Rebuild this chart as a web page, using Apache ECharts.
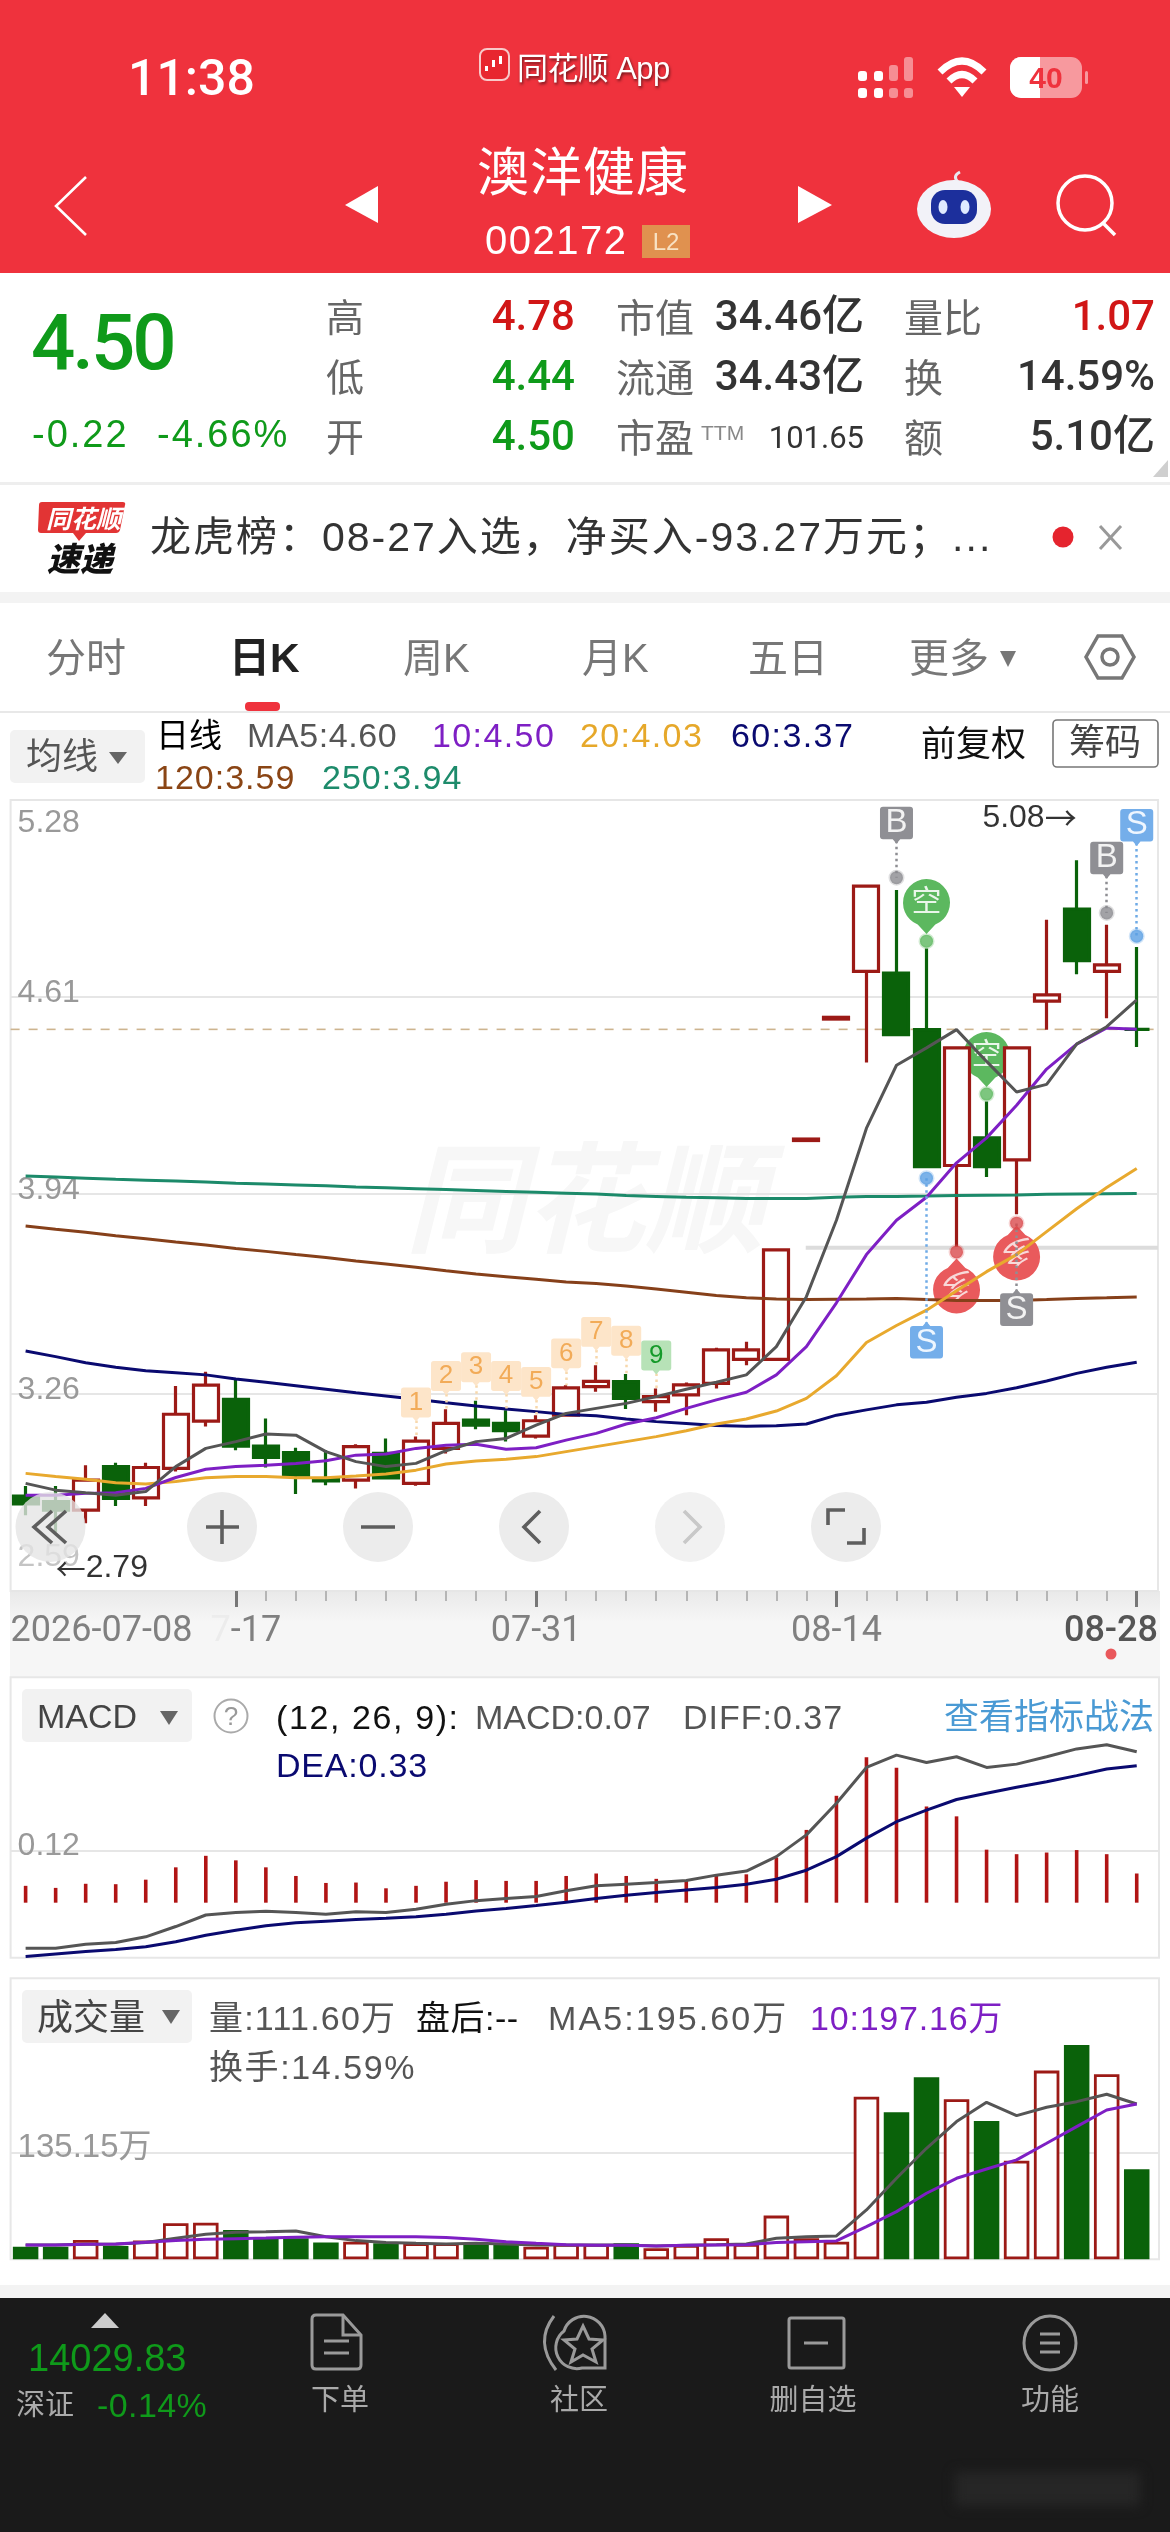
<!DOCTYPE html>
<html lang="zh-CN"><head><meta charset="utf-8">
<script src="https://cdn.jsdelivr.net/npm/echarts@6/dist/echarts.min.js"></script>
<style>
html,body{margin:0;padding:0;background:#fff}
#page{position:relative;width:1170px;height:2532px;overflow:hidden;font-family:"Liberation Sans","Noto Sans CJK SC",sans-serif}
#chart{position:absolute;left:0;top:0;width:1170px;height:2532px;z-index:1}
.b{position:absolute;z-index:0}
#top{position:absolute;left:0;top:0;width:1170px;height:2532px;z-index:2;pointer-events:none}
#top svg{position:absolute;left:0;top:0}
.t{position:absolute;white-space:nowrap;line-height:1;transform:translateY(-50%)}
</style></head><body><div id="page">
<div class="b" style="left:0;top:0;width:1170px;height:273px;background:#ef323d"></div>
<div class="b" style="left:0;top:482px;width:1170px;height:3px;background:#eeeeee"></div>
<div class="b" style="left:0;top:592px;width:1170px;height:11px;background:#f3f3f3"></div>
<div class="b" style="left:0;top:711px;width:1170px;height:2px;background:#e8e8e8"></div>
<div class="b" style="left:10px;top:1591px;width:1150px;height:87px;background:linear-gradient(#e9e9e9,#f6f6f6 35%,#f6f6f6)"></div>
<div class="b" style="left:0;top:2285px;width:1170px;height:13px;background:#f3f3f3"></div>
<div class="b" style="left:0;top:2298px;width:1170px;height:234px;background:#1a1a1a"></div>
<div class="b" style="left:955px;top:2472px;width:185px;height:34px;background:#262626;filter:blur(6px)"></div>
<div class="b" style="left:10px;top:730px;width:135px;height:53px;background:#f2f2f2;border-radius:5px"></div>
<div class="b" style="left:22px;top:1689px;width:170px;height:53px;background:#f2f2f2;border-radius:5px"></div>
<div class="b" style="left:22px;top:1990px;width:170px;height:53px;background:#f2f2f2;border-radius:5px"></div>
<div class="b" style="left:405px;top:1104px;font:italic bold 120px 'Noto Sans CJK SC';color:#f7f7f7;white-space:nowrap">同花顺</div>
<div id="chart"></div>
<div id="top"></div>
</div>
<script>
// ---------- data ----------
const dates = ['2026-07-08','07-09','07-10','07-13','07-14','07-15','07-16','07-17','07-20','07-21','07-22','07-23','07-24','07-27','07-28','07-29','07-30','07-31','08-03','08-04','08-05','08-06','08-07','08-10','08-11','08-12','08-13','08-14','08-17','08-18','08-19','08-20','08-21','08-24','08-25','08-26','08-27','08-28'];
const opens  = [2.913,2.894,2.865,3.013,2.907,3.007,3.168,3.242,3.083,3.061,2.970,2.967,3.058,2.956,3.075,3.171,3.160,3.117,3.188,3.285,3.302,3.234,3.257,3.296,3.378,3.378,4.122,4.535,4.697,4.691,4.499,4.037,4.131,4.056,4.596,4.909,4.697,4.50];
const closes = [2.886,2.865,2.967,2.905,3.010,3.191,3.290,3.083,3.044,2.984,2.964,3.081,2.975,3.100,3.160,3.154,3.135,3.169,3.281,3.303,3.245,3.251,3.291,3.410,3.410,3.750,4.127,4.541,4.987,4.482,4.033,4.437,4.033,4.437,4.617,4.734,4.719,4.50];
const lows   = [2.848,2.79,2.820,2.879,2.879,2.996,3.149,3.069,3.010,2.920,2.950,2.939,2.971,2.948,3.058,3.140,3.098,3.109,3.183,3.268,3.209,3.200,3.188,3.279,3.358,3.378,4.122,4.535,4.387,4.48,4.033,3.760,3.998,3.871,4.499,4.687,4.538,4.44];
const highs  = [2.947,2.947,3.018,3.026,3.026,3.287,3.336,3.313,3.177,3.077,3.069,3.089,3.109,3.115,3.208,3.237,3.205,3.188,3.290,3.358,3.328,3.279,3.299,3.417,3.438,3.750,4.127,4.541,4.987,4.974,4.775,4.437,4.255,4.437,4.873,5.075,4.856,4.78];
const ma5   = [2.956,2.933,2.924,2.916,2.928,3.013,3.075,3.098,3.124,3.120,3.064,3.030,3.013,3.024,3.067,3.098,3.109,3.154,3.194,3.211,3.228,3.251,3.276,3.300,3.325,3.421,3.591,3.851,4.164,4.378,4.437,4.499,4.391,4.287,4.313,4.450,4.509,4.600];
const ma10  = [2.916,2.916,2.922,2.924,2.939,2.976,3.004,3.013,3.018,3.024,3.033,3.052,3.056,3.075,3.086,3.089,3.072,3.077,3.103,3.126,3.158,3.179,3.211,3.240,3.266,3.325,3.421,3.570,3.734,3.851,3.929,4.046,4.131,4.242,4.365,4.450,4.505,4.500];
const ma20  = [2.990,2.979,2.970,2.958,2.954,2.962,2.975,2.979,2.979,2.975,2.975,2.981,2.988,3.001,3.022,3.032,3.038,3.047,3.064,3.081,3.098,3.115,3.135,3.158,3.175,3.202,3.245,3.322,3.435,3.493,3.545,3.611,3.676,3.734,3.812,3.890,3.962,4.027];
const ma60  = [3.406,3.387,3.366,3.351,3.339,3.332,3.325,3.311,3.300,3.288,3.276,3.264,3.253,3.242,3.230,3.219,3.209,3.200,3.190,3.186,3.175,3.166,3.160,3.153,3.150,3.152,3.158,3.188,3.206,3.223,3.232,3.249,3.262,3.281,3.304,3.330,3.351,3.368];
const ma120 = [3.831,3.820,3.810,3.798,3.788,3.777,3.767,3.755,3.745,3.734,3.724,3.712,3.702,3.691,3.679,3.668,3.659,3.650,3.641,3.636,3.627,3.617,3.606,3.595,3.587,3.583,3.581,3.582,3.583,3.585,3.581,3.578,3.578,3.578,3.581,3.585,3.587,3.590];
const ma250 = [4.001,3.998,3.994,3.990,3.987,3.984,3.981,3.977,3.974,3.971,3.968,3.964,3.961,3.958,3.955,3.952,3.949,3.946,3.943,3.940,3.935,3.932,3.929,3.927,3.925,3.925,3.925,3.929,3.932,3.932,3.933,3.935,3.936,3.937,3.939,3.940,3.941,3.942];
const macdBars = [.041,.036,.046,.045,.056,.086,.114,.103,.086,.065,.048,.049,.035,.041,.051,.055,.053,.053,.065,.071,.065,.058,.055,.067,.069,.110,.177,.260,.354,.328,.234,.210,.129,.118,.122,.128,.118,.071];
const diff = [-.111,-.111,-.101,-.097,-.083,-.058,-.030,-.024,-.021,-.024,-.028,-.022,-.024,-.016,-.004,.005,.010,.015,.029,.041,.045,.049,.054,.067,.077,.112,.165,.242,.329,.359,.341,.355,.329,.337,.355,.374,.384,.367];
const dea  = [-.131,-.125,-.119,-.114,-.107,-.095,-.079,-.067,-.056,-.049,-.045,-.041,-.038,-.034,-.028,-.020,-.014,-.007,.001,.010,.018,.025,.031,.037,.045,.057,.079,.112,.157,.197,.225,.251,.266,.281,.294,.309,.325,.333];
const volumes = [16.0,16.0,24.4,16.8,23.6,45.5,46.3,37.0,26.5,26.5,21.1,22.3,20.2,20.2,20.2,20.2,20.2,16.0,19.4,19.4,20.2,13.9,18.1,26.5,19.4,55.2,26.5,22.3,205.4,185.7,229.9,202.1,174.7,124.6,238.3,270.7,233.7,113.7];
const volMa5  = [18.1,18.1,18.9,18.9,21.1,26.5,31.6,34.1,34.9,35.8,28.6,23.6,21.1,20.2,19.4,20.2,19.4,18.1,18.1,18.1,18.1,16.8,17.7,18.5,19.4,26.5,28.6,29.5,62.3,102.3,140.2,173.9,198.3,181.5,192.0,199.1,208.4,196.2];
const volMa10 = [18.1,18.1,18.9,19.4,21.5,23.6,25.3,26.1,26.9,27.8,28.6,28.6,28.6,28.6,27.4,25.3,22.3,20.2,18.5,17.7,17.7,16.8,17.7,18.1,18.5,21.1,22.3,23.2,41.3,60.2,83.4,102.3,114.1,125.5,146.5,167.6,188.6,196.2];
const priceTicks = [2.59,3.26,3.94,4.61,5.28];
const macdTick = 0.126, macdTickLabel = '0.12';
const volTick = 135.15, volTickLabel = '135.15万';
const lastPrice = 4.50;
const supportLine = 3.757;
const dateTickIdx = [7,17,27];
const nineTags = [[13,3.231,'1'],[14,3.321,'2'],[15,3.351,'3'],[16,3.321,'4'],[17,3.301,'5'],[18,3.398,'6'],[19,3.471,'7'],[20,3.441,'8']];
const nineGreen = [[21,3.391,'9']];
const grayTop = [[29,5.203,'B'],[36,5.084,'B']];
const blueTop = [[37,5.195,'S']];
const blueBottom = [[30,3.435,'S']];
const grayBottom = [[33,3.546,'S']];
const kongBubbles = [[30,4.931,'空'],[32,4.411,'空']];
const duoBubbles = [[31,3.614,'多'],[33,3.726,'多']];
const grayDots = [[29,5.016],[36,4.896]];
const blueDots = [[37,4.817],[30,3.994]];
const greenDots = [[30,4.800],[32,4.280]];
const redDots = [[31,3.743],[33,3.841]];
const grayLinks = [[29,5.203,5.016],[36,5.084,4.896],[33,3.546,3.841]];
const blueLinks = [[37,5.195,4.817],[30,3.994,3.435]];
const extremes = {low:[1,2.79,'2.79'],high:[35,5.08,'5.08']};

// ---------- chart ----------
const FF = '"Liberation Sans","Noto Sans CJK SC",sans-serif';
const RED='#9c1a16', GREEN='#0a620a', N=dates.length;
const BAND=1141.14;
const noAxis={axisLine:{show:false},axisTick:{show:false},axisLabel:{show:false},splitLine:{show:false}};
const gridBase={left:10.6,outerBoundsMode:'none',containLabel:false};
const frame={show:true,borderColor:'#e7e7e7',borderWidth:2,backgroundColor:'transparent'};
const split={show:true,lineStyle:{color:'#e6e6e6',width:2}};
const tickFont={fontFamily:FF,fontSize:32};
const bgY=(idx,min,max,vals,fmt,rich)=>({type:'value',gridIndex:idx,min,max,scale:true,
  axisLine:{show:false},axisTick:{show:false,customValues:vals},splitLine:Object.assign({customValues:vals},split),
  axisLabel:{show:true,inside:true,margin:7,customValues:vals,showMinLabel:true,showMaxLabel:true,verticalAlign:'middle',formatter:fmt,rich,color:'#999',fontSize:32,fontFamily:FF,hideOverlap:false}});
const catX=(idx,extra)=>Object.assign({type:'category',gridIndex:idx,position:'bottom',data:dates,boundaryGap:true},noAxis,extra||{});
const hideY=(idx,min,max)=>Object.assign({type:'value',gridIndex:idx,min,max},noAxis);
const bgX=(idx,extra)=>Object.assign({type:'value',gridIndex:idx,position:'bottom',min:0,max:1},noAxis,extra||{});

const line=(name,data,color,xi,yi,w)=>({name,type:'line',data,xAxisIndex:xi,yAxisIndex:yi,symbol:'none',smooth:false,z:4,silent:true,
  lineStyle:{color,width:w||3},itemStyle:{color}});
const path={
 flagDown:'path://M4 0H40A4 4 0 0 1 44 4V40A4 4 0 0 1 40 44H27L22 50L17 44H4A4 4 0 0 1 0 40V4A4 4 0 0 1 4 0Z',
 flagUp:'path://M4 6H17L22 0L27 6H40A4 4 0 0 1 44 10V46A4 4 0 0 1 40 50H4A4 4 0 0 1 0 46V10A4 4 0 0 1 4 6Z',
 dropDown:'path://M15 46.3A24 24 0 1 1 33 46.3L24 56Z',
 dropUp:'path://M15 9.7A24 24 0 1 0 33 9.7L24 0Z'
};
const marks=(name,data,sym,size,fill,txt,off,labOff,z,fs,rot)=>({name,type:'scatter',xAxisIndex:1,yAxisIndex:1,data,symbol:sym,symbolSize:size,symbolOffset:[0,off],z,silent:true,
  itemStyle:{color:fill,opacity:1},encode:{x:0,y:1},
  label:{show:true,position:'inside',offset:[0,labOff],formatter:p=>p.value[2],color:txt,fontSize:fs,fontFamily:FF,rotate:rot||0}});
const dots=(name,data,fill,halo)=>({name,type:'scatter',xAxisIndex:1,yAxisIndex:1,data,symbol:'circle',symbolSize:13,z:6,silent:true,
  itemStyle:{color:fill,borderColor:halo,borderWidth:3}});
const links=(name,list,color)=>({name,type:'scatter',xAxisIndex:1,yAxisIndex:1,data:[],z:5,silent:true,
  markLine:{silent:true,symbol:'none',label:{show:false},animation:false,lineStyle:{color,type:[2.5,3.5],width:2.5},
    data:list.map(l=>[{coord:[l[0],l[1]]},{coord:[l[0],l[2]]}])}});

const chart=echarts.init(document.getElementById('chart'),null,{width:1170,height:2532});
chart.setOption({
 animation:false,backgroundColor:'transparent',
 grid:[
  Object.assign({},gridBase,frame,{top:800,width:1147.4,height:791}),
  Object.assign({},gridBase,{top:800,width:BAND,height:791}),
  Object.assign({},gridBase,frame,{top:1677.3,width:1148.4,height:280.4}),
  Object.assign({},gridBase,{top:1677.3,width:BAND,height:280.4}),
  Object.assign({},gridBase,frame,{top:1978.3,width:1148.4,height:281}),
  Object.assign({},gridBase,{top:1978.3,width:BAND,height:281})
 ],
 xAxis:[
  bgX(0,{axisLabel:{show:true,customValues:[0,1],alignMinLabel:'left',alignMaxLabel:'right',margin:23,showMinLabel:true,showMaxLabel:true,hideOverlap:false,
     formatter:v=>v===0?dates[0]:'{end|'+dates[N-1]+'}',color:'#808080',fontSize:36,fontFamily:'Roboto',rich:{end:{color:'#555',fontSize:36,fontFamily:'Roboto',fontWeight:500}}}}),
  catX(1,{axisTick:{show:true,alignWithLabel:true,length:10,interval:i=>i>=7,lineStyle:{color:'#b5b5b5',width:2}},
     axisLabel:{show:true,margin:23,interval:i=>dateTickIdx.includes(i),hideOverlap:false,color:'#808080',fontSize:36,fontFamily:'Roboto',
       formatter:(v,i)=>i===7?'{h|0}{f|7}-17':v,rich:{h:{color:'transparent',fontSize:36,fontFamily:'Roboto'},f:{color:'#ececec',fontSize:36,fontFamily:'Roboto'}}}}),
  catX(1,{axisTick:{show:true,alignWithLabel:true,length:16,interval:i=>dateTickIdx.includes(i)||i===N-1,lineStyle:{color:'#777',width:3}}}),
  bgX(2),catX(3),bgX(4),catX(5)
 ],
 yAxis:[
  bgY(0,2.59,5.28,priceTicks,v=>{const s=v.toFixed(2);return v===2.59?'{low|'+s+'}':v===5.28?'{top|'+s+'}':'{n|'+s+'}';},
    {low:Object.assign({padding:[0,0,68,0],color:'#c4c4c4'},tickFont),top:Object.assign({padding:[46,0,0,0],color:'#999'},tickFont),n:Object.assign({padding:[0,0,7,0],color:'#999'},tickFont)}),
  hideY(1,2.59,5.28),
  bgY(2,-.1338,.5482,[macdTick],()=>'{n|'+macdTickLabel+'}',{n:Object.assign({padding:[0,0,10,0],color:'#999'},tickFont)}),
  hideY(3,-.1338,.5482),
  bgY(4,0,354.9,[volTick],()=>'{n|'+volTickLabel+'}',{n:Object.assign({padding:[0,0,9,0],color:'#999'},tickFont,{fontSize:33})}),
  hideY(5,0,354.9)
 ],
 series:[
  {name:'现价',type:'line',xAxisIndex:0,yAxisIndex:0,data:[[0,lastPrice],[1,lastPrice]],symbol:'none',z:1,silent:true,lineStyle:{color:'#cdb48f',width:1.6,type:[9,9]}},
  {name:'支撑',type:'line',xAxisIndex:0,yAxisIndex:0,data:[[0.693,supportLine],[1,supportLine]],symbol:'none',z:1,silent:true,lineStyle:{color:'#dcdcdc',width:4}},
  marks('空',kongBubbles,path.dropDown,[47,55],'#5cb85f','#eaf6ea',4,-4,1.5,30),
  marks('多',duoBubbles,path.dropUp,[47,55],'#e95a5c','#f8d9d9',-4,4,1.5,30,180),
  {name:'日K',type:'candlestick',xAxisIndex:1,yAxisIndex:1,z:3,silent:true,barWidth:25.5,
   data:opens.map((o,i)=>[o,closes[i],lows[i],highs[i]]),
   itemStyle:{color:'#ffffff',color0:GREEN,borderColor:RED,borderColor0:GREEN,borderColorDoji:GREEN,borderWidth:3.2}},
  line('MA250',ma250,'#1c8a6a',1,1),line('MA120',ma120,'#86401a',1,1),line('MA60',ma60,'#0a0a70',1,1),
  line('MA20',ma20,'#e8a92e',1,1),line('MA10',ma10,'#7e1fc4',1,1),line('MA5',ma5,'#555555',1,1),
  links('连线灰',grayLinks,'#8e8e93'),links('连线蓝',blueLinks,'#6fabe6'),
  links('九转线',nineTags.concat(nineGreen).map(t=>[t[0],t[1],highs[t[0]]]),'#f7d8ac'),
  dots('点灰',grayDots,'#8b8b90','rgba(139,139,144,.35)'),dots('点蓝',blueDots,'#5a9fe3','rgba(90,159,227,.35)'),
  dots('点绿',greenDots,'#5cb85f','rgba(92,184,95,.35)'),dots('点红',redDots,'#d94a4c','rgba(217,74,76,.3)'),
  marks('九转',nineTags,path.flagDown,[30,34],'#fde5c9','#f2ab58',2,-2,7,26),
  marks('九转绿',nineGreen,path.flagDown,[30,34],'#b7e2b7','#159a2a',2,-2,7,26),
  marks('B',grayTop,path.flagDown,[33,37],'#8f8f94','#f2f2f2',2.5,-2.5,8,33),
  marks('S蓝',blueTop,path.flagDown,[33,37],'#74aeea','#eef6ff',2.5,-2.5,8,33),
  marks('S蓝下',blueBottom,path.flagUp,[33,37],'#74aeea','#eef6ff',-2.5,2.5,8,33),
  marks('S灰',grayBottom,path.flagUp,[33,37],'#8f8f94','#f2f2f2',-2.5,2.5,8,33),
  {name:'最低',type:'scatter',xAxisIndex:1,yAxisIndex:1,data:[extremes.low],symbolSize:0,z:9,silent:true,
   label:{show:true,position:'right',distance:0,offset:[0,36],formatter:p=>'{a|←}{b|'+p.value[2]+'}',rich:{a:{fontFamily:'Noto Sans CJK SC',fontSize:30,color:'#000'},b:{fontFamily:FF,fontSize:32,color:'#000'}}}},
  {name:'最高',type:'scatter',xAxisIndex:1,yAxisIndex:1,data:[extremes.high],symbolSize:0,z:9,silent:true,
   label:{show:true,position:'left',distance:0,offset:[0,-41],formatter:p=>'{b|'+p.value[2]+'}{a|→}',rich:{a:{fontFamily:'Noto Sans CJK SC',fontSize:32,color:'#000'},b:{fontFamily:FF,fontSize:32,color:'#000'}}}},
  {name:'MACD',type:'bar',xAxisIndex:4,yAxisIndex:3,data:macdBars,barWidth:3.6,silent:true,itemStyle:{color:'#b11414'}},
  line('DIFF',diff,'#555555',4,3),line('DEA',dea,'#0a0a70',4,3,3),
  {name:'成交量',type:'bar',xAxisIndex:6,yAxisIndex:5,barWidth:25.5,silent:true,
   data:volumes.map((v,i)=>({value:v,itemStyle:closes[i]>opens[i]?{color:'#fff',borderColor:RED,borderWidth:2.8}:{color:GREEN,borderColor:GREEN,borderWidth:1.5}}))},
  line('量MA5',volMa5,'#555555',6,5),line('量MA10',volMa10,'#7e1fc4',6,5,3)
 ]
});

// ---------- page chrome ----------
const top_=document.getElementById('top');
function T(s,x,y,size,color,o){o=o||{};const d=document.createElement('div');d.className='t';d.textContent=s;
 d.style.cssText+=`top:${y}px;font-size:${size}px;color:${color};`+(o.r?`right:${1170-x}px;`:o.c?`left:${x}px;transform:translate(-50%,-50%);`:`left:${x}px;`)+(o.w?`font-weight:${o.w};`:'')+(o.ls?`letter-spacing:${o.ls}px;`:'')+(o.f?`font-family:${o.f};`:'')+(o.css||'');
 top_.appendChild(d);}
const DK='#333',GY='#555',GN='#0f9a1a',RD='#d11616',LB='#666';
T('11:38',128,78,50,'#fff',{f:'Roboto',w:500});
T('同花顺 App',517,68,31,'#fff',{ls:-.6,css:'text-shadow:1px 2px 3px rgba(0,0,0,.55);'});
T('澳洋健康',583,173,52,'#fff',{c:1,ls:1});
T('002172',485,240,40,'#fff',{ls:1.5});
T('L2',666,242,24,'#f8e2c4',{c:1});
T('40',1046,78,30,'#ef323d',{c:1,w:700});
T('4.50',31,343,78,GN,{w:500,ls:-3,f:'Roboto'});
T('-0.22',32,434,38,GN,{ls:2}); T('-4.66%',157,434,38,GN,{ls:2});
[['高',318],['低',378],['开',438]].forEach(a=>T(a[0],326,a[1],38,LB));
T('4.78',575,316,42,RD,{r:1,w:500,f:'Roboto'});T('4.44',575,376,42,GN,{r:1,w:500,f:'Roboto'});T('4.50',575,436,42,GN,{r:1,w:500,f:'Roboto'});
[['市值',318],['流通',378],['市盈',438]].forEach(a=>T(a[0],616,a[1],39,LB));
T('34.46亿',864,316,42,DK,{r:1,w:500,f:'Roboto,"Noto Sans CJK SC"'});T('34.43亿',864,376,42,DK,{r:1,w:500,f:'Roboto,"Noto Sans CJK SC"'});
T('TTM',701,432,21,'#888');T('101.65',864,437,31,DK,{r:1,f:'Roboto'});
[['量比',318],['换',378],['额',438]].forEach(a=>T(a[0],904,a[1],39,LB));
T('1.07',1155,316,42,RD,{r:1,w:500,f:'Roboto'});T('14.59%',1155,376,42,DK,{r:1,w:500,f:'Roboto'});T('5.10亿',1155,436,42,DK,{r:1,w:500,f:'Roboto,"Noto Sans CJK SC"'});
T('同花顺',46,519,25,'#fff',{w:700,css:'font-style:italic;'});T('速递',47,559,33,'#111',{w:900,css:'font-style:italic;'});
T('龙虎榜：08-27入选，净买入-93.27万元；...',150,537,41,DK,{ls:2});
[['分时',46,'#777'],['周K',403,'#777'],['月K',582,'#777'],['五日',748,'#777'],['更多',909,'#777']].forEach(a=>T(a[0],a[1],658,40,a[2]));
T('日K',229,658,41,'#222',{w:700});
T('均线',26,757,36,GY);
T('日线',156,735,33,'#000');T('MA5:4.60',247,735,34,GY,{ls:.6});T('10:4.50',432,735,34,'#7e1fc4',{ls:1.4});T('20:4.03',580,735,34,'#e6a82a',{ls:1.4});T('60:3.37',731,735,34,'#0a0a70',{ls:1.4});
T('120:3.59',155,777,34,'#8a4515',{ls:1});T('250:3.94',322,777,34,'#1d8b6b',{ls:1});
T('前复权',921,743,35,'#111');T('筹码',1105,743,36,'#444',{c:1});
T('MACD',37,1716,34,'#444');
T('?',231,1716,26,'#999',{c:1});
T('(12, 26, 9):',276,1717,34,'#111',{ls:1.6});T('MACD:0.07',475,1717,34,GY);T('DIFF:0.37',683,1717,34,GY,{ls:1});
T('查看指标战法',944,1716,35,'#4a9ad4');T('DEA:0.33',276,1765,34,'#0a0a70',{ls:.8});
T('成交量',37,2018,36,'#444');
T('量:111.60万',209,2018,34,GY,{ls:1.2});T('盘后:--',416,2018,34,'#111',{ls:.5});T('MA5:195.60万',548,2018,34,GY,{ls:2.1});T('10:197.16万',810,2018,34,'#7e1fc4',{ls:.8});
T('换手:14.59%',209,2067,34,GY,{ls:1.6});
T('14029.83',28,2358,38,GN,{});T('深证',16,2405,29,'#aaa');T('-0.14%',97,2405,34,GN,{ls:.4});
[['下单',340],['社区',579],['删自选',813],['功能',1050]].forEach(a=>T(a[0],a[1],2400,29,'#aaa',{c:1}));

const svg=`<svg width="1170" height="2532" xmlns="http://www.w3.org/2000/svg">
<g fill="none" stroke="#fff" stroke-width="2.6"><polyline points="86,177 56,206 86,235"/></g>
<polygon points="378,186 378,223 345,205" fill="#fff"/><polygon points="798,186 798,223 832,205" fill="#fff"/>
<rect x="480" y="49" width="29" height="31" rx="7" fill="#e8262f" stroke="#f8c9c9" stroke-width="2"/>
<rect x="485" y="66" width="3" height="5" fill="#fff"/><rect x="492" y="60" width="3" height="7" fill="#fff"/><rect x="499" y="56" width="3" height="8" fill="#fff"/>
<g fill="#fff"><rect x="858" y="71" width="9" height="10" rx="3"/><rect x="858" y="88" width="9" height="10" rx="3"/><rect x="874" y="71" width="9" height="10" rx="3"/><rect x="874" y="88" width="9" height="10" rx="3"/></g>
<g fill="#fff" opacity=".45"><rect x="889" y="65" width="9" height="16" rx="3"/><rect x="889" y="88" width="9" height="10" rx="3"/><rect x="904" y="57" width="9" height="24" rx="3"/><rect x="904" y="88" width="9" height="10" rx="3"/></g>
<g fill="none" stroke="#fff" stroke-width="7"><path d="M940 72Q962 50 984 72"/><path d="M949 81Q962 68 975 81"/></g><polygon points="954,87 970,87 962,97" fill="#fff"/>
<rect x="1010" y="57" width="72" height="41" rx="11" fill="#fff" opacity=".5"/><path d="M1021 57H1040V98H1021A11 11 0 0 1 1010 87V68A11 11 0 0 1 1021 57Z" fill="#fff"/><rect x="1085" y="71" width="3" height="13" rx="1.5" fill="#fff" opacity=".5"/>
<rect x="642" y="225" width="48" height="33" fill="#e0914f"/>
<path d="M958 182Q952 176 960 172" fill="none" stroke="#e8e8f0" stroke-width="3"/>
<ellipse cx="954" cy="209" rx="37" ry="29" fill="#f2f2f8"/><rect x="931" y="190" width="46" height="34" rx="14" fill="#1c2f9c"/><ellipse cx="943" cy="207" rx="4.5" ry="7" fill="#dfeaff"/><ellipse cx="965" cy="207" rx="4.5" ry="7" fill="#dfeaff"/>
<g fill="none" stroke="#fff" stroke-width="3.5"><circle cx="1085" cy="203" r="27"/><line x1="1103" y1="223" x2="1115" y2="235"/></g>
<polygon points="1168,460 1168,477 1153,477" fill="#cfcfcf"/>
<path d="M42 502H123Q126 502 125 505L120 530Q119 533 116 533H86L79 541L73 533H41Q38 533 38 530L39 505Q39 502 42 502Z" fill="#e23434"/>
<circle cx="1063" cy="537" r="10.5" fill="#e5242e"/>
<g stroke="#999" stroke-width="3"><line x1="1100" y1="526" x2="1121" y2="549"/><line x1="1121" y1="526" x2="1100" y2="549"/></g>
<polygon points="1000,651 1016,651 1008,667" fill="#777"/>
<g fill="none" stroke="#777" stroke-width="3.5"><polygon points="1098,636 1122,636 1134,657 1122,678 1098,678 1086,657"/><circle cx="1110" cy="657" r="8"/></g>
<rect x="245" y="702" width="35" height="9" rx="4" fill="#ef323d"/>
<polygon points="109,752 127,752 118,764" fill="#666"/>
<rect x="1053" y="720" width="105" height="47" rx="4" fill="none" stroke="#777" stroke-width="1.6"/>
<g>
<circle cx="50.5" cy="1527" r="35" fill="#e4e4e4" opacity=".78"/><circle cx="222" cy="1527" r="35" fill="#ececec"/><circle cx="378" cy="1527" r="35" fill="#ececec"/><circle cx="534" cy="1527" r="35" fill="#ececec"/><circle cx="690" cy="1527" r="35" fill="#ededed" opacity=".8"/><circle cx="846" cy="1527" r="35" fill="#ececec"/>
<g fill="none" stroke="#5e5e5e" stroke-width="3.6">
<polyline points="52,1511 34,1527 52,1543"/><polyline points="66,1511 48,1527 66,1543"/>
<line x1="206" y1="1527" x2="239" y2="1527"/><line x1="222" y1="1510" x2="222" y2="1544"/>
<line x1="361" y1="1527" x2="395" y2="1527"/>
<polyline points="540,1511 524,1527 540,1543"/>
<polyline points="684,1511 700,1527 684,1543" stroke="#c8c8c8"/>
<polyline points="828,1525 828,1510 845,1510"/><polyline points="864,1528 864,1543 847,1543"/>
</g></g>
<circle cx="1111" cy="1654" r="5.5" fill="#e9585b"/>
<polygon points="160,1711 178,1711 169,1725" fill="#666"/>
<circle cx="231" cy="1716" r="16.5" fill="none" stroke="#aaa" stroke-width="2"/>
<polygon points="162,2010 180,2010 171,2024" fill="#666"/>
<polygon points="105,2313 119,2328 91,2328" fill="#ccc"/>
<g fill="none" stroke="#9a9a9a" stroke-width="3">
<path d="M316 2315H343L361 2335V2365Q361 2369 357 2369H316Q312 2369 312 2365V2319Q312 2315 316 2315Z"/><path d="M343 2315V2335H361"/><line x1="324" y1="2341" x2="349" y2="2341"/><line x1="324" y1="2353" x2="349" y2="2353"/>
<path d="M554 2316Q534 2342 556 2370"/><path d="M564 2331A21 21 0 0 1 605 2336V2368H582A21 21 0 0 1 564 2331Z"/><polygon points="583,2326 589,2339 603,2340 592,2349 596,2362 583,2355 571,2362 575,2349 564,2340 577,2339"/>
<rect x="789" y="2318" width="55" height="50" rx="2"/><line x1="804" y1="2343" x2="828" y2="2343"/>
<ellipse cx="1050" cy="2343" rx="26" ry="27"/><line x1="1040" y1="2334" x2="1060" y2="2334"/><line x1="1040" y1="2343" x2="1060" y2="2343"/><line x1="1040" y1="2352" x2="1060" y2="2352"/>
</g></svg>`;
top_.insertAdjacentHTML('afterbegin',svg);
</script></body></html>
